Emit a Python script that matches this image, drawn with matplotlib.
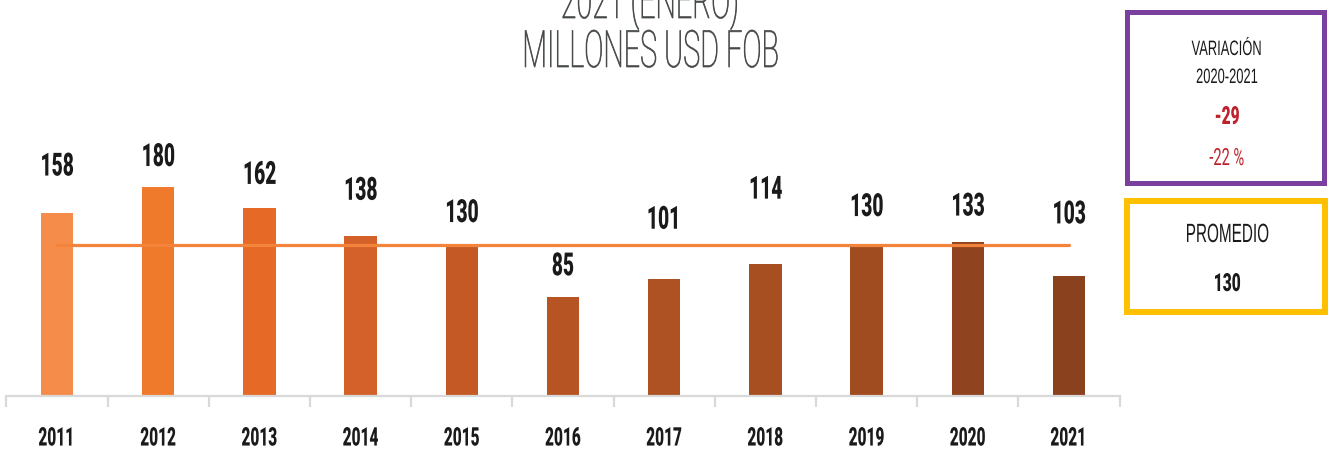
import matplotlib
matplotlib.use("Agg")
import matplotlib.pyplot as plt
from matplotlib.patches import Rectangle
from matplotlib.patheffects import AbstractPathEffect
from matplotlib.transforms import Affine2D

# ---- data -------------------------------------------------------------
years = ["2011", "2012", "2013", "2014", "2015", "2016",
         "2017", "2018", "2019", "2020", "2021"]
values = [158, 180, 162, 138, 130, 85, 101, 114, 130, 133, 103]
promedio = 130
variacion_abs = -29
variacion_pct = -22

title_lines = ["2021 (ENERO)", "MILLONES USD FOB"]

# ---- styling ----------------------------------------------------------
bar_colors = ["#F58C4A", "#F07A2B", "#E66926", "#D5612A", "#C45926",
              "#B65424", "#AE5123", "#A84F22", "#A04C20", "#8F431E",
              "#89411E"]
# vertical gap (px) between each bar top and the centre of its label
label_gap_px = [46, 30, 33, 45, 32, 31, 59, 74, 38, 35, 62]

W, H = 1333, 450
DPI = 100


class Condense(AbstractPathEffect):
    """Squeeze glyph outlines horizontally about the centre of each line,
    optionally thickening them with a thin outline of the same colour."""

    def __init__(self, sx, stroke=0.0):
        super().__init__()
        self.sx = sx
        self.stroke = stroke

    def draw_path(self, renderer, gc, tpath, affine, rgbFace=None):
        ext = tpath.get_extents()
        c = 0.5 * (ext.x0 + ext.x1)
        squeeze = Affine2D().translate(-c, 0).scale(self.sx, 1).translate(c, 0)
        if self.stroke > 0:
            gc0 = renderer.new_gc()
            gc0.copy_properties(gc)
            gc0.set_linewidth(self.stroke)
            gc0.set_foreground(rgbFace)
            renderer.draw_path(gc0, tpath, squeeze + affine, rgbFace)
            gc0.restore()
        else:
            renderer.draw_path(gc, tpath, squeeze + affine, rgbFace)


def fx(px):
    return px / W


def fy(py):
    return 1 - py / H


fig = plt.figure(figsize=(W / DPI, H / DPI), dpi=DPI)
fig.patch.set_facecolor("white")

# plot area: baseline at y=396 px, categories from x=6 to x=1120 px
base_px, top_px = 396, 130
left_px, right_px = 6.4, 1119.6
px_per_unit = 1.161
ax = fig.add_axes([fx(left_px), fy(base_px), fx(right_px - left_px),
                   (base_px - top_px) / H])
ax.set_xlim(-0.5, len(years) - 0.5)
ax.set_ylim(0, (base_px - top_px) / px_per_unit)

x = list(range(len(years)))
ax.bar(x, values, width=0.32, color=bar_colors, zorder=2)

# average line across the bar centres
ax.plot([x[0], x[-1]], [promedio, promedio], color="#F4833B", lw=2.3,
        solid_capstyle="round", zorder=3)

# value labels
for xi, v, gap in zip(x, values, label_gap_px):
    t = ax.annotate(f"{v}", (xi, v), xytext=(0, gap * 72 / DPI),
                    textcoords="offset points", ha="center", va="center",
                    fontsize=23, fontweight="black", family="Roboto",
                    color="#1A1A1A", zorder=4)
    t.set_path_effects([Condense(0.6)])

# axis styling
for s in ("left", "right", "top"):
    ax.spines[s].set_visible(False)
ax.spines["bottom"].set_color("#D9D9D9")
ax.spines["bottom"].set_linewidth(1.6)
ax.set_yticks([])
ax.set_xticks(x)
ax.set_xticklabels(years)
ax.set_xticks([i - 0.5 for i in range(len(years) + 1)], minor=True)
ax.tick_params(axis="x", which="major", length=0, pad=22)
ax.tick_params(axis="x", which="minor", length=8, width=1.6,
               color="#D9D9D9", direction="out")
for lab in ax.get_xticklabels():
    lab.set_fontsize(18.5)
    lab.set_fontweight("black")
    lab.set_family("Roboto")
    lab.set_color("#1A1A1A")
    lab.set_path_effects([Condense(0.6)])

# two-line title; the first line runs off the top edge
t = fig.text(fx(650), fy(67), "\n".join(title_lines), ha="center",
             va="baseline", ma="center", fontsize=37, linespacing=0.95,
             fontweight="light", family="Roboto", color="#454848")
t.set_path_effects([Condense(0.56, stroke=0.5)])

# side boxes
fig.patches.append(Rectangle((fx(1126.5), fy(182.5)), fx(197), 171 / H,
                             transform=fig.transFigure, fill=False,
                             edgecolor="#7B3F9E", lw=3.6))
fig.patches.append(Rectangle((fx(1127), fy(312)), fx(198), 111 / H,
                             transform=fig.transFigure, fill=False,
                             edgecolor="#FFC000", lw=4.3))

box_x = fx(1227)
box_texts = [
    ("VARIACIÓN", 55, 15, "normal", "#1A1A1A", 0.62),
    ("2020-2021", 83, 15, "normal", "#1A1A1A", 0.62),
    (f"{variacion_abs}", 124, 18, "black", "#C0202A", 0.62),
    (f"{variacion_pct} %", 165, 17, "normal", "#C0202A", 0.62),
    ("PROMEDIO", 242, 19, "normal", "#1A1A1A", 0.58),
    (f"{promedio}", 291, 18, "black", "#1A1A1A", 0.62),
]
for txt, ypx, fs, fw, col, sx in box_texts:
    fam = "Roboto" if fw == "black" or "%" in txt else "Liberation Sans"
    t = fig.text(box_x, fy(ypx), txt, ha="center", va="baseline",
                 fontsize=fs, fontweight=fw, family=fam, color=col)
    t.set_path_effects([Condense(sx)])

fig.savefig("out.png", dpi=DPI, facecolor="white")
